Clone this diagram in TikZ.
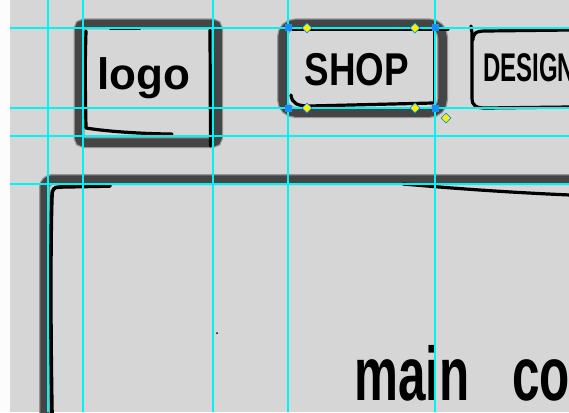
\documentclass[tikz,border=0pt]{standalone}
\usepackage{fontspec}
\setmainfont{Liberation Sans}
\usepackage{graphicx}
\usetikzlibrary{shapes.geometric}
\definecolor{paper}{HTML}{D6D6D6}
\definecolor{frame}{HTML}{454545}
\definecolor{guide}{HTML}{00F4F4}
\definecolor{handle}{HTML}{1A8CF5}
\definecolor{diam}{HTML}{FFF000}
\tikzset{
  darkbox/.style={draw=frame, line width=8.5pt, rectangle, rounded corners=#1, inner sep=0pt,
    preaction={draw=frame!45!paper, line width=11pt}},
  ink/.style={draw=black, line width=3.2pt, line cap=round, line join=round},
  guideline/.style={draw=guide, line width=1.6pt},
  sqhandle/.style={rectangle, fill=handle, minimum size=7pt, inner sep=0pt},
  dmhandle/.style={diamond, fill=diam, draw=guide!60!blue, line width=0.6pt, minimum size=10pt, inner sep=0pt},
  label/.style={inner sep=0pt, text=black, font=\bfseries}
}
\begin{document}
\begin{tikzpicture}[x=1pt,y=-1pt]
\useasboundingbox (0,0) rectangle (569,412);
\clip (0,0) rectangle (569,412);
\fill[paper] (0,0) rectangle (569,412);
\fill[white!92!paper] (0,0) rectangle (10,412);

% dark frames
\node[darkbox=5pt, minimum width=138.5pt, minimum height=118.5pt] (logo) at (148.25,83.25) {};
\node[darkbox=13pt, minimum width=160pt, minimum height=88.5pt] (shop) at (362.5,68.25) {};
\node[darkbox=8pt, minimum width=575.5pt, minimum height=280.5pt] (main) at (332.25,319.75) {};

% hand-drawn ink lines
\draw[ink] (86,31) .. controls (85,70) .. (86,128);
\draw[ink] (86,128) .. controls (110,132) and (150,134) .. (172,134);
\draw[ink] (210,30) -- (210.5,146);
\draw[ink, line width=1.4pt] (110,29) -- (140,29);

\draw[ink] (290,29) -- (448,29);
\draw[ink] (291,95) .. controls (292,104) and (298,106) .. (310,106) -- (433,103);
\draw[ink, line width=1.6pt] (434,30) -- (434,103);

\draw[ink] (471,26) -- (472,33) -- (472,98) .. controls (472,106) and (476,108) .. (486,108) -- (570,107);
\draw[ink] (473,40) .. controls (473,33) and (476,31) .. (486,31) -- (570,30);

\draw[ink, line width=3.6pt] (52,413) .. controls (50,300) and (51,220) .. (52,196) .. controls (52,189) and (54,187) .. (60,187) -- (110,186);
\draw[ink] (403,184) .. controls (450,188) and (500,192) .. (570,195);
\fill[black] (217,333) circle (1pt);

% texts
\node[label] (logotext) at (144,78) {\fontsize{44}{44}\selectfont logo};
\node[label] (shoptext) at (357,70) {\scalebox{0.8}[1]{\fontsize{46}{46}\selectfont SHOP}};
\node[label, anchor=west] (designtext) at (483,68) {\scalebox{0.6}[1]{\fontsize{40}{40}\selectfont DESIGN}};
\node[label, anchor=base west] (maintext) at (354,400) {\scalebox{0.65}[1]{\fontsize{76}{76}\selectfont main\hspace{66pt}co}};

% guides
\foreach \gx in {48,83,213,288,435} \draw[guideline] (\gx,0) -- (\gx,412);
\foreach \gy in {28,108,136,184} \draw[guideline] (10,\gy) -- (569,\gy);

% selection handles
\node[sqhandle] (hnw) at (288,28) {};
\node[sqhandle] (hne) at (435,28) {};
\node[sqhandle] (hsw) at (288,108) {};
\node[sqhandle] (hse) at (435,108) {};
\node[dmhandle] (dnw) at (307,28) {};
\node[dmhandle] (dne) at (415,28) {};
\node[dmhandle] (dsw) at (307,108) {};
\node[dmhandle] (dse) at (415,108) {};
\node[dmhandle] (drot) at (446,118) {};
\end{tikzpicture}
\end{document}
